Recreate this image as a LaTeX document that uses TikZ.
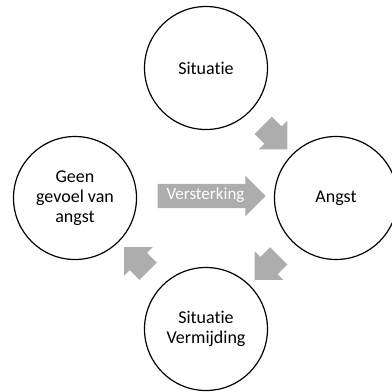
\documentclass[tikz,border=0pt]{standalone}
\usepackage{fontspec}
\setmainfont{Carlito}[Ligatures=NoCommon]
\definecolor{arrowgray}{RGB}{173,173,173}
\usetikzlibrary{shapes.arrows, calc}

\begin{document}
\begin{tikzpicture}[x=1pt, y=-1pt,
  stage/.style={draw, circle, line width=1.2pt, minimum size=123pt, inner sep=0pt, align=center, font=\fontsize{18}{20}\selectfont},
  flow/.style={single arrow, fill=arrowgray, draw=none, single arrow head extend=8pt, inner xsep=1pt, inner ysep=7pt, text height=8pt, text depth=2pt}]
  \useasboundingbox (0,0) rectangle (392,392);

  % ===== circles =====
  \node[stage] (sit) at (206,68) {Situatie};
  \node[stage] (angst) at (336,198) {Angst};
  \node[stage] (verm) at (206,329) {Situatie\\Vermijding};
  \node[stage] (geen) at (75,198) {Geen\\gevoel van\\angst};

  % ===== block arrows between the circles =====
  \node[flow, minimum height=34pt, rotate=-45] (a1) at ($(sit)!0.5!(angst)$) {};
  \node[flow, minimum height=34pt, rotate=-135] (a2) at ($(angst)!0.5!(verm)$) {};
  \node[flow, minimum height=34pt, rotate=135] (a3) at ($(verm)!0.5!(geen)$) {};

  % Versterking
  \node[flow, minimum height=108pt, text=white, font=\fontsize{17}{20}\selectfont, yshift=2pt] (vers) at ($(geen)!0.5!(angst)$) {Versterking};
\end{tikzpicture}
\end{document}
